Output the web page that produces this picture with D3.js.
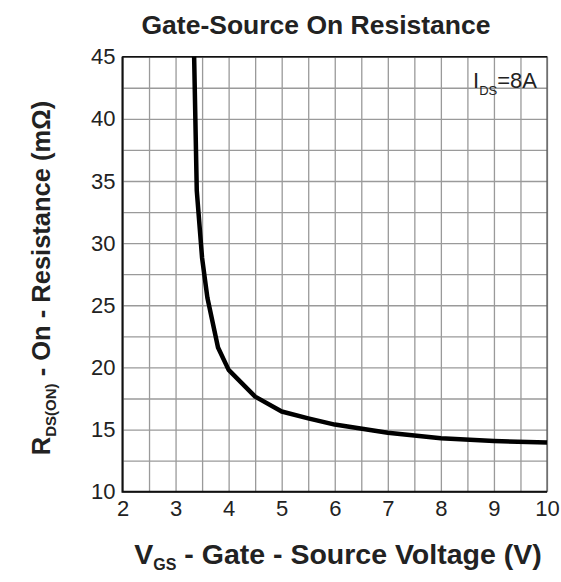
<!DOCTYPE html>
<html>
<head>
<meta charset="utf-8">
<script src="https://cdn.jsdelivr.net/npm/d3@7"></script>
<style>
  body { margin: 0; background: #fff; }
  text { font-family: "Liberation Sans", Arial, sans-serif; fill: #222; }
</style>
</head>
<body>
<div id="myChart"></div>
<script>
// curve: VGS (V) and RDS(on) (mOhm)
const vgs = [3.35, 3.4, 3.5, 3.6, 3.8, 4.0, 4.5, 5.0, 5.5, 6.0, 7.0, 8.0, 9.0, 10.0];
const rds = [45, 34.2, 28.8, 25.6, 21.6, 19.8, 17.65, 16.45, 15.9, 15.4, 14.75, 14.3, 14.08, 13.95];
const xTicks = [2, 3, 4, 5, 6, 7, 8, 9, 10];
const yTicks = [10, 15, 20, 25, 30, 35, 40, 45];

const w = 561, h = 582;
const plotL = 122.5, plotR = 547, plotT = 56.7, plotB = 491.7;

const svg = d3.select("#myChart").append("svg")
    .attr("width", w)
    .attr("height", h);

const xScale = d3.scaleLinear().domain([2, 10]).range([plotL, plotR]);
const yScale = d3.scaleLinear().domain([10, 45]).range([plotB, plotT]);

// grid lines
svg.append("g")
    .attr("transform", "translate(0," + plotB + ")")
    .call(d3.axisBottom(xScale).tickValues(d3.range(2, 10.01, 0.5)).tickSize(-(plotB - plotT)).tickFormat(""))
    .call(g => g.select(".domain").remove())
    .call(g => g.selectAll("line").attr("stroke", "#9a9a9a").attr("stroke-width", 1.3));
svg.append("g")
    .attr("transform", "translate(" + plotL + ",0)")
    .call(d3.axisLeft(yScale).tickValues(d3.range(10, 45.01, 2.5)).tickSize(-(plotR - plotL)).tickFormat(""))
    .call(g => g.select(".domain").remove())
    .call(g => g.selectAll("line").attr("stroke", "#9a9a9a").attr("stroke-width", 1.3));

// frame
svg.append("rect")
    .attr("x", plotL).attr("y", plotT)
    .attr("width", plotR - plotL).attr("height", plotB - plotT)
    .attr("fill", "none").attr("stroke", "#555").attr("stroke-width", 1.2);
svg.append("path")
    .attr("d", "M" + plotL + "," + plotT + "H" + plotR)
    .attr("stroke", "#111").attr("stroke-width", 1.5);
svg.append("path")
    .attr("d", "M" + plotL + "," + plotT + "V" + plotB + "H" + plotR)
    .attr("fill", "none").attr("stroke", "#111").attr("stroke-width", 2);

// tick labels
const xAxis = svg.append("g")
    .attr("transform", "translate(0," + plotB + ")")
    .call(d3.axisBottom(xScale).tickValues(xTicks).tickSize(0).tickPadding(9));
xAxis.select(".domain").remove();
xAxis.selectAll("text").style("font-size", "22px").attr("fill", "#222")
    .attr("font-family", "Liberation Sans, Arial, sans-serif");

const yAxis = svg.append("g")
    .attr("transform", "translate(" + plotL + ",0)")
    .call(d3.axisLeft(yScale).tickValues(yTicks).tickSize(0).tickPadding(7));
yAxis.select(".domain").remove();
yAxis.selectAll("text").style("font-size", "22px").attr("fill", "#222")
    .attr("font-family", "Liberation Sans, Arial, sans-serif");

// curve
const line = d3.line()
    .x((d, i) => xScale(vgs[i]))
    .y(d => yScale(d));
svg.append("path")
    .datum(rds)
    .attr("d", line)
    .attr("fill", "none")
    .attr("stroke", "#000")
    .attr("stroke-width", 4.5)
    .attr("stroke-linejoin", "round");

// title
svg.append("text")
    .attr("x", 316).attr("y", 34)
    .attr("text-anchor", "middle")
    .style("font-size", "26.5px").style("font-weight", "bold")
    .text("Gate-Source On Resistance");

// legend
const leg = svg.append("text")
    .attr("x", 473).attr("y", 88)
    .style("font-size", "22px");
leg.append("tspan").text("I");
leg.append("tspan").attr("dy", 7).style("font-size", "13px").text("DS");
leg.append("tspan").attr("dy", -7).text("=8A");

// x label
const xl = svg.append("text")
    .attr("x", 338).attr("y", 564)
    .attr("text-anchor", "middle")
    .style("font-size", "28.5px").style("font-weight", "bold");
xl.append("tspan").text("V");
xl.append("tspan").attr("dy", 6).style("font-size", "16px").text("GS");
xl.append("tspan").attr("dy", -6).text(" - Gate - Source Voltage (V)");

// y label
const yl = svg.append("text")
    .attr("transform", "translate(50,278) rotate(-90)")
    .attr("text-anchor", "middle")
    .style("font-size", "25.5px").style("font-weight", "bold");
yl.append("tspan").text("R");
yl.append("tspan").attr("dy", 6).style("font-size", "15px").text("DS(ON)");
yl.append("tspan").attr("dy", -6).text(" - On - Resistance (m\u03A9)");
</script>
</body>
</html>
